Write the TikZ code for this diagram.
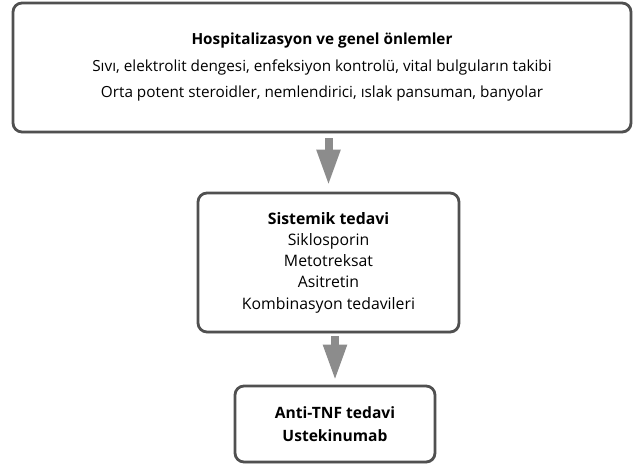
\documentclass[tikz,border=0pt]{standalone}
\usepackage{fontspec}
\setmainfont{Open Sans}
\usepackage{tikz}
\usetikzlibrary{arrows.meta,shadows}
\definecolor{BoxBorder}{RGB}{80, 80, 80}
\definecolor{ArrowGray}{RGB}{140, 140, 140}

\begin{document}
\begin{tikzpicture}[x=1bp,y=-1bp,
    every node/.style={font=\fontsize{15.8bp}{21.3bp}\selectfont,text=black},
    stepbox/.style={draw=BoxBorder,line width=2.8bp,rounded corners=9bp,fill=white,
      align=center,inner sep=0pt,
      drop shadow={shadow xshift=1bp,shadow yshift=-1.5bp,opacity=0.25}},
    flowarrow/.style={draw=ArrowGray,line width=8bp,
      -{Triangle[length=36bp,width=22bp]}}]
  \useasboundingbox (0,0) rectangle (639,465);
  \node[stepbox,minimum width=618bp,minimum height=129bp,
        font=\fontsize{15.3bp}{26.5bp}\selectfont] (hosp) at (322,67.5)
    {\textbf{Hospitalizasyon ve genel önlemler}\\
     Sıvı, elektrolit dengesi, enfeksiyon kontrolü, vital bulguların takibi\\
     Orta potent steroidler, nemlendirici, ıslak pansuman, banyolar};
  \node[stepbox,minimum width=261bp,minimum height=139bp] (sist) at (328.5,262.5)
    {\textbf{Sistemik tedavi}\\ Siklosporin\\ Metotreksat\\ Asitretin\\ Kombinasyon tedavileri};
  \node[stepbox,minimum width=200bp,minimum height=76bp,
        font=\bfseries\fontsize{15.6bp}{23bp}\selectfont] (anti) at (335,424)
    {Anti-TNF tedavi\\ Ustekinumab};
  \draw[flowarrow,shorten <=5bp,shorten >=6bp] (hosp.south -| sist.north) -- (sist.north);
  \draw[flowarrow,shorten <=3bp,shorten >=4bp] (sist.south -| anti.north) -- (anti.north);
\end{tikzpicture}
\end{document}
